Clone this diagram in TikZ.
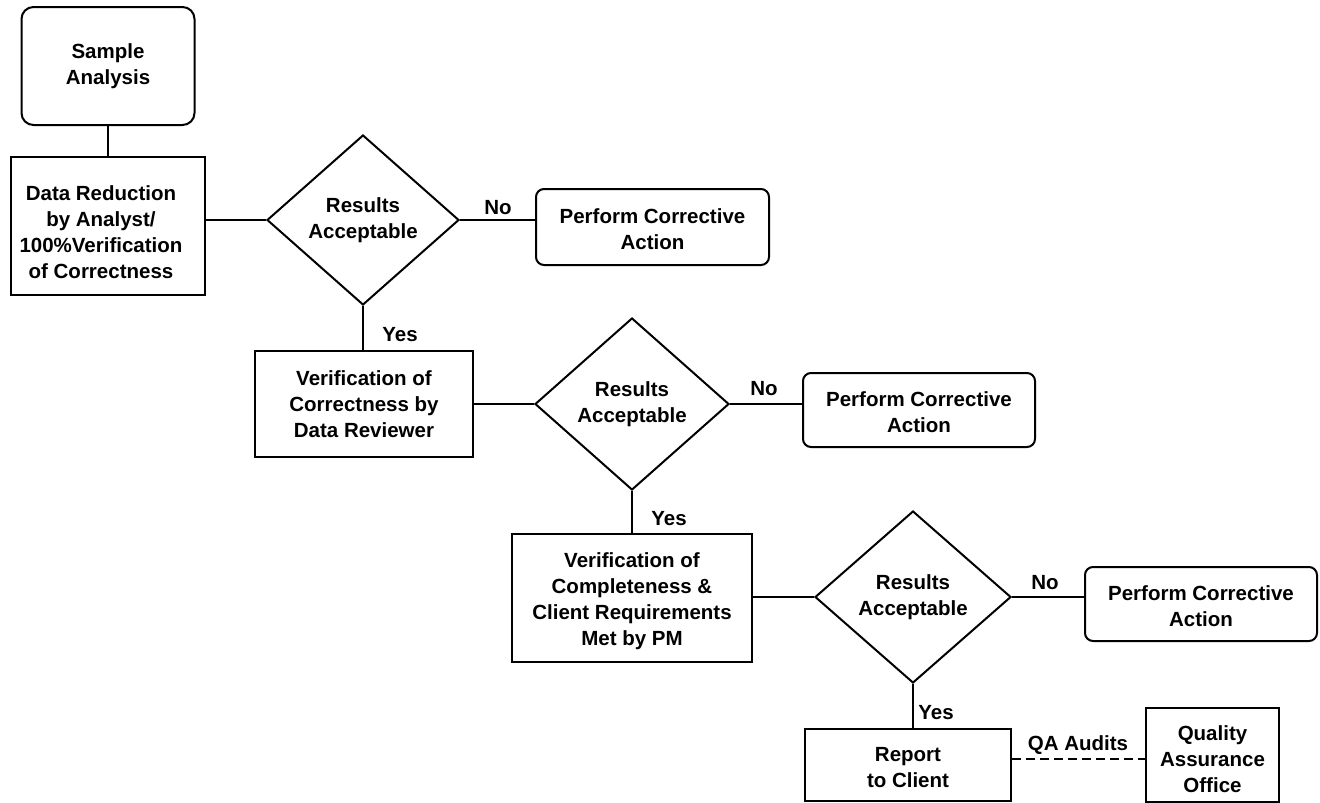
\documentclass[tikz,border=0pt]{standalone}
\usepackage{fontspec}
\setmainfont{Liberation Sans}
\usetikzlibrary{shapes.geometric}
\begin{document}
\begin{tikzpicture}[x=1pt,y=-1pt,
  line width=2pt,
  every node/.style={font=\bfseries\fontsize{20.5}{26}\selectfont, align=center, inner sep=0pt},
  stepbox/.style={draw, rectangle},
  startbox/.style={draw, rectangle, rounded corners=12pt},
  fixbox/.style={draw, rectangle, rounded corners=8pt},
  decision/.style={draw, diamond},
  edgelabel/.style={text height=14.7pt, text depth=0pt}
]
\useasboundingbox (0,0) rectangle (1320,803);

% process boxes
\node[startbox, minimum width=173pt, minimum height=118pt] (sample) at (108,66) {Sample\\Analysis};
\node[stepbox, minimum width=194pt, minimum height=138pt] (reduce) at (108,226) {};
\node (reducetext) at ([xshift=-7pt,yshift=-6pt]reduce.center) {Data Reduction\\by Analyst/\\100\%Verification\\of Correctness};
\node[stepbox, minimum width=218pt, minimum height=106pt] (review) at (364,404) {Verification of\\Correctness by\\Data Reviewer};
\node[stepbox, minimum width=240pt, minimum height=128pt] (pm) at (632,598) {};
\node (pmtext) at ([yshift=-3pt]pm.center) {Verification of\\Completeness \&\\Client Requirements\\Met by PM};
\node[stepbox, minimum width=206pt, minimum height=72pt] (report) at (908,765) {};
\node (reporttext) at ([yshift=-3pt]report.center) {Report\\to Client};
\node[stepbox, minimum width=133pt, minimum height=94pt] (qa) at (1212.5,755) {};
\node (qatext) at ([yshift=-4pt]qa.center) {Quality\\Assurance\\Office};

% decisions
\node[decision, minimum width=192pt, minimum height=170pt] (d1) at (363,220) {Results\\Acceptable};
\node[decision, minimum width=194pt, minimum height=172pt] (d2) at (632,404) {Results\\Acceptable};
\node[decision, minimum width=196pt, minimum height=172pt] (d3) at (913,597) {Results\\Acceptable};

% corrective actions
\node[fixbox, minimum width=233pt, minimum height=76pt] (fix1) at (652.5,227) {};
\node (fix1text) at ([yshift=-2pt]fix1.center) {Perform Corrective\\Action};
\node[fixbox, minimum width=232pt, minimum height=74pt] (fix2) at (919,410) {};
\node (fix2text) at ([yshift=-2pt]fix2.center) {Perform Corrective\\Action};
\node[fixbox, minimum width=232pt, minimum height=74pt] (fix3) at (1201,604) {};
\node (fix3text) at ([yshift=-2pt]fix3.center) {Perform Corrective\\Action};

% connectors
\draw (sample.south) -- (sample.south |- reduce.north);
\draw (d1.west -| reduce.east) -- (d1.west);
\draw (d1.east) -- (d1.east -| fix1.west);
\draw (d1.south) -- (d1.south |- review.north);
\draw (d2.west -| review.east) -- (d2.west);
\draw (d2.east) -- (d2.east -| fix2.west);
\draw (d2.south) -- (d2.south |- pm.north);
\draw (d3.west -| pm.east) -- (d3.west);
\draw (d3.east) -- (d3.east -| fix3.west);
\draw (d3.south) -- (d3.south |- report.north);
\draw[dashed, dash pattern=on 9pt off 5pt] ([yshift=6pt]report.east) coordinate (audit) -- (audit -| qa.west);

% branch labels
\node[edgelabel] (no1) at (498,207) {No};
\node[edgelabel] (yes1) at (400,334) {Yes};
\node[edgelabel] (no2) at (764,388) {No};
\node[edgelabel] (yes2) at (669,518) {Yes};
\node[edgelabel] (no3) at (1045,582) {No};
\node[edgelabel] (yes3) at (936,712) {Yes};
\node[edgelabel] (audits) at (1078,743) {QA Audits};
\end{tikzpicture}
\end{document}
